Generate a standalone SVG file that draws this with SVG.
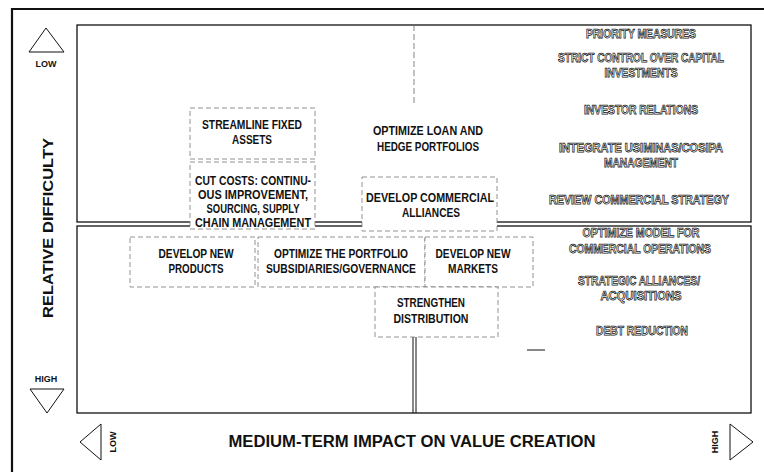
<svg xmlns="http://www.w3.org/2000/svg" width="764" height="472" viewBox="0 0 764 472">
<style>
.frame{fill:none;stroke:#111;stroke-width:1.3}
.box{fill:#fff;stroke:#777;stroke-width:0.8;stroke-dasharray:5 3}
.lbl{font-family:"Liberation Sans",Arial,sans-serif;font-weight:bold;font-size:12px;fill:#111;text-anchor:middle}
.out{font-family:"Liberation Sans",Arial,sans-serif;font-weight:bold;font-size:12px;fill:#fff;stroke:#111;stroke-width:0.75;text-anchor:middle}
.ax{font-family:"Liberation Sans",Arial,sans-serif;font-weight:bold;fill:#111;text-anchor:middle}
.tri{fill:#fff;stroke:#111;stroke-width:1}
</style>
<rect width="764" height="472" fill="#fff"/>
<g id="frame">
<path d="M12,472 V9 H764" fill="none" stroke="#111" stroke-width="2.2"/>
<rect class="frame" x="77" y="25" width="674" height="197"/>
<rect class="frame" x="77" y="226" width="674" height="187"/>
<line x1="414" y1="25" x2="414" y2="105" stroke="#666" stroke-width="0.8" stroke-dasharray="6 3"/>
<line x1="413" y1="337" x2="413" y2="413" stroke="#111" stroke-width="1"/>
<line x1="416" y1="337" x2="416" y2="413" stroke="#111" stroke-width="1"/>
<line x1="527" y1="350" x2="545" y2="350" stroke="#111" stroke-width="1"/>
</g>
<g id="connectors"></g>
<g id="n-streamline">
<rect class="box" x="190" y="108" width="125" height="51"/>
<text class="lbl" x="252" y="129" textLength="100" lengthAdjust="spacingAndGlyphs">STREAMLINE FIXED</text>
<text class="lbl" x="252" y="144" textLength="40" lengthAdjust="spacingAndGlyphs">ASSETS</text>
</g>
<g id="n-cutcosts">
<rect class="box" x="190" y="162" width="125" height="67"/>
<text class="lbl" x="253" y="185" textLength="116" lengthAdjust="spacingAndGlyphs">CUT COSTS: CONTINU-</text>
<text class="lbl" x="253" y="199" textLength="110" lengthAdjust="spacingAndGlyphs">OUS IMPROVEMENT,</text>
<text class="lbl" x="253" y="213" textLength="93" lengthAdjust="spacingAndGlyphs">SOURCING, SUPPLY</text>
<text class="lbl" x="253" y="227" textLength="116" lengthAdjust="spacingAndGlyphs">CHAIN MANAGEMENT</text>
</g>
<g id="n-loan">
<text class="lbl" x="428" y="135" textLength="110" lengthAdjust="spacingAndGlyphs">OPTIMIZE LOAN AND</text>
<text class="lbl" x="428" y="151" textLength="102" lengthAdjust="spacingAndGlyphs">HEDGE PORTFOLIOS</text>
</g>
<g id="n-alliances">
<rect class="box" x="362" y="177" width="135" height="54"/>
<text class="lbl" x="430" y="202" textLength="128" lengthAdjust="spacingAndGlyphs">DEVELOP COMMERCIAL</text>
<text class="lbl" x="431" y="217" textLength="58" lengthAdjust="spacingAndGlyphs">ALLIANCES</text>
</g>
<g id="n-products">
<rect class="box" x="130" y="237" width="125" height="50"/>
<text class="lbl" x="196" y="258" textLength="75" lengthAdjust="spacingAndGlyphs">DEVELOP NEW</text>
<text class="lbl" x="196" y="273" textLength="55" lengthAdjust="spacingAndGlyphs">PRODUCTS</text>
</g>
<g id="n-portfolio">
<rect class="box" x="258" y="237" width="167" height="50"/>
<text class="lbl" x="341" y="258" textLength="134" lengthAdjust="spacingAndGlyphs">OPTIMIZE THE PORTFOLIO</text>
<text class="lbl" x="341" y="273" textLength="150" lengthAdjust="spacingAndGlyphs">SUBSIDIARIES/GOVERNANCE</text>
</g>
<g id="n-markets">
<rect class="box" x="425" y="237" width="108" height="50"/>
<text class="lbl" x="473" y="258" textLength="75" lengthAdjust="spacingAndGlyphs">DEVELOP NEW</text>
<text class="lbl" x="473" y="273" textLength="50" lengthAdjust="spacingAndGlyphs">MARKETS</text>
</g>
<g id="n-distribution">
<rect class="box" x="375" y="287" width="123" height="50"/>
<text class="lbl" x="431" y="307" textLength="68" lengthAdjust="spacingAndGlyphs">STRENGTHEN</text>
<text class="lbl" x="431" y="323" textLength="75" lengthAdjust="spacingAndGlyphs">DISTRIBUTION</text>
</g>
<g id="n-priority">
<text class="out" x="641" y="38" textLength="110" lengthAdjust="spacingAndGlyphs">PRIORITY MEASURES</text>
</g>
<g id="n-capital">
<text class="out" x="641" y="62" textLength="166" lengthAdjust="spacingAndGlyphs">STRICT CONTROL OVER CAPITAL</text>
<text class="out" x="641" y="77" textLength="73" lengthAdjust="spacingAndGlyphs">INVESTMENTS</text>
</g>
<g id="n-investor">
<text class="out" x="641" y="114" textLength="114" lengthAdjust="spacingAndGlyphs">INVESTOR RELATIONS</text>
</g>
<g id="n-integrate">
<text class="out" x="641" y="152" textLength="164" lengthAdjust="spacingAndGlyphs">INTEGRATE USIMINAS/COSIPA</text>
<text class="out" x="641" y="167" textLength="74" lengthAdjust="spacingAndGlyphs">MANAGEMENT</text>
</g>
<g id="n-review">
<text class="out" x="639" y="204" textLength="180" lengthAdjust="spacingAndGlyphs">REVIEW COMMERCIAL STRATEGY</text>
</g>
<g id="n-model">
<text class="out" x="641" y="237" textLength="117" lengthAdjust="spacingAndGlyphs">OPTIMIZE MODEL FOR</text>
<text class="out" x="640" y="253" textLength="142" lengthAdjust="spacingAndGlyphs">COMMERCIAL OPERATIONS</text>
</g>
<g id="n-strategic">
<text class="out" x="639" y="285" textLength="122" lengthAdjust="spacingAndGlyphs">STRATEGIC ALLIANCES/</text>
<text class="out" x="641" y="300" textLength="81" lengthAdjust="spacingAndGlyphs">ACQUISITIONS</text>
</g>
<g id="n-debt">
<text class="out" x="642" y="335" textLength="92" lengthAdjust="spacingAndGlyphs">DEBT REDUCTION</text>
</g>
<g id="axes">
<polygon class="tri" points="46,28 29,52 64,52"/>
<text class="ax" x="46" y="67" font-size="9">LOW</text>
<text class="ax" font-size="15" transform="translate(53,228) rotate(-90)" textLength="180" lengthAdjust="spacingAndGlyphs">RELATIVE DIFFICULTY</text>
<text class="ax" x="46" y="382" font-size="9">HIGH</text>
<polygon class="tri" points="30,389 64,389 47,413"/>
<polygon class="tri" points="80,442 101,424 101,460"/>
<text class="ax" font-size="9" transform="translate(116,442) rotate(-90)">LOW</text>
<text class="ax" x="412" y="447" font-size="16" textLength="367" lengthAdjust="spacingAndGlyphs">MEDIUM-TERM IMPACT ON VALUE CREATION</text>
<text class="ax" font-size="9" transform="translate(718,442) rotate(-90)">HIGH</text>
<polygon class="tri" points="730,424 730,460 753,442"/>
</g>
</svg>
